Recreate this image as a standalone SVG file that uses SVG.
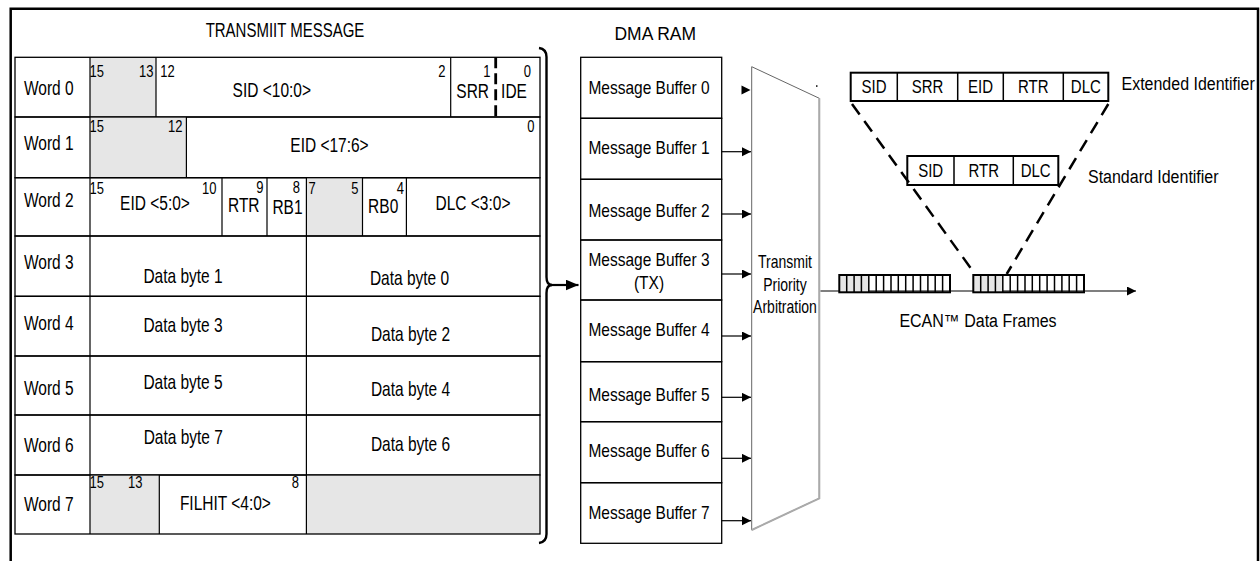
<svg xmlns="http://www.w3.org/2000/svg" width="1260" height="561" viewBox="0 0 1260 561">
<defs>
<style>
.ln{fill:none;stroke:#000;stroke-width:1.2}
.ol{fill:none;stroke:#000;stroke-width:1.3}
.gr{fill:#e6e6e6;stroke:none}
.t{font-family:"Liberation Sans",Arial,Helvetica,sans-serif;fill:#000;transform-box:fill-box;transform-origin:center}
.m{text-anchor:middle}
.e{text-anchor:end}
.f{font-size:15.5px;transform:scaleY(1.27)}
.tm{font-size:15px;transform:scaleY(1.3)}
.n{font-size:13px;transform:scaleY(1.2)}
.h{font-size:17.5px;transform:scaleY(1.1)}
.d{font-size:15.5px;transform:scaleY(1.2)}
.a{font-size:14px;transform:scaleY(1.3)}
.r{font-size:15px;transform:scaleY(1.25)}
.l{font-size:16px;transform:scaleY(1.1)}
.fr{fill:none;stroke:#000;stroke-width:2}
.dv{stroke:#000;stroke-width:1.5}
</style>
<marker id="ah" markerUnits="userSpaceOnUse" markerWidth="10" markerHeight="10" refX="9" refY="4.5" orient="auto"><path d="M0,0L9,4.5L0,9z" fill="#000"/></marker>
<marker id="ah2" markerUnits="userSpaceOnUse" markerWidth="14" markerHeight="12" refX="13" refY="5.5" orient="auto"><path d="M0,0L13,5.5L0,11z" fill="#000"/></marker>
</defs>
<rect x="0" y="0" width="1260" height="561" fill="#fff"/>
<path d="M10.7,563V8.7H1258V563" fill="none" stroke="#000" stroke-width="2.5"/>

<g id="transmit-message">
<text class="t tm m" x="285" y="35.7">TRANSMIIT MESSAGE</text>
<g id="word0">
<rect class="gr" x="90" y="57.3" width="66" height="59.7"/>
<rect class="ol" x="15" y="57.3" width="525" height="59.7"/>
<path class="ln" d="M90,57.3V117M156,57.3V117M450.7,57.3V117"/>
<line x1="495.7" y1="57.3" x2="495.7" y2="117" stroke="#000" stroke-width="2.8" stroke-dasharray="11 5"/>
<text class="t f m" x="48.8" y="93.6">Word 0</text>
<text class="t n" x="89.5" y="76">15</text>
<text class="t n e" x="153.5" y="76">13</text>
<text class="t n" x="160.2" y="76">12</text>
<text class="t f m" x="271.8" y="95.9">SID &lt;10:0&gt;</text>
<text class="t n e" x="445.5" y="76">2</text>
<text class="t n e" x="490.5" y="76">1</text>
<text class="t f m" x="472.7" y="96.6">SRR</text>
<text class="t n e" x="531" y="76">0</text>
<text class="t f m" x="514" y="96.6">IDE</text>
</g>
<g id="word1">
<rect class="gr" x="90" y="117" width="96.4" height="60.7"/>
<rect class="ol" x="15" y="117" width="525" height="60.7"/>
<path class="ln" d="M90,117V177.7M186.4,117V177.7"/>
<text class="t f m" x="48.8" y="148.6">Word 1</text>
<text class="t n" x="89.5" y="130.7">15</text>
<text class="t n e" x="182.5" y="130.7">12</text>
<text class="t f m" x="329.5" y="150.6">EID &lt;17:6&gt;</text>
<text class="t n e" x="534.5" y="130.7">0</text>
</g>
<g id="word2">
<rect class="gr" x="306.4" y="177.7" width="56.1" height="58.3"/>
<rect class="ol" x="15" y="177.7" width="525" height="58.3"/>
<path class="ln" d="M90,177.7V236M222,177.7V236M267,177.7V236M306.4,177.7V236M362.5,177.7V236M406.4,177.7V236"/>
<text class="t f m" x="48.8" y="205.3">Word 2</text>
<text class="t n" x="89.5" y="193">15</text>
<text class="t n e" x="216.5" y="193">10</text>
<text class="t f m" x="155" y="208.6">EID &lt;5:0&gt;</text>
<text class="t n e" x="263.5" y="192.5">9</text>
<text class="t f m" x="243.8" y="210.5">RTR</text>
<text class="t n e" x="300" y="192.5">8</text>
<text class="t f m" x="287.5" y="212.5">RB1</text>
<text class="t n" x="308.4" y="193">7</text>
<text class="t n e" x="358.5" y="193">5</text>
<text class="t f m" x="383.2" y="211.4">RB0</text>
<text class="t n e" x="404" y="193">4</text>
<text class="t f m" x="473" y="208.6">DLC &lt;3:0&gt;</text>
</g>
<g id="word3">
<rect class="ol" x="15" y="236" width="525" height="60.3"/>
<path class="ln" d="M90,236V296.3M306.4,236V296.3"/>
<text class="t f m" x="48.8" y="267.6">Word 3</text>
<text class="t f m" x="183" y="281.9">Data byte 1</text>
<text class="t f m" x="409.5" y="283.9">Data byte 0</text>
</g>
<g id="word4">
<rect class="ol" x="15" y="296.3" width="525" height="59.7"/>
<path class="ln" d="M90,296.3V356M306.4,296.3V356"/>
<text class="t f m" x="48.8" y="328.6">Word 4</text>
<text class="t f m" x="183" y="330.6">Data byte 3</text>
<text class="t f m" x="410.5" y="339.4">Data byte 2</text>
</g>
<g id="word5">
<rect class="ol" x="15" y="356" width="525" height="59"/>
<path class="ln" d="M90,356V415M306.4,356V415"/>
<text class="t f m" x="48.8" y="393.1">Word 5</text>
<text class="t f m" x="183" y="387.3">Data byte 5</text>
<text class="t f m" x="410.5" y="394.8">Data byte 4</text>
</g>
<g id="word6">
<rect class="ol" x="15" y="415" width="525" height="60"/>
<path class="ln" d="M90,415V475M306.4,415V475"/>
<text class="t f m" x="48.8" y="450.6">Word 6</text>
<text class="t f m" x="183.3" y="442.8">Data byte 7</text>
<text class="t f m" x="410.5" y="449.3">Data byte 6</text>
</g>
<g id="word7">
<rect class="gr" x="90" y="475" width="69.3" height="59"/>
<rect class="gr" x="306.4" y="475" width="233.6" height="59"/>
<rect class="ol" x="15" y="475" width="525" height="59"/>
<path class="ln" d="M90,475V534M159.3,475V534M306.4,475V534"/>
<text class="t f m" x="48.8" y="509.6">Word 7</text>
<text class="t n" x="89.5" y="487.5">15</text>
<text class="t n e" x="142.5" y="487.5">13</text>
<text class="t n e" x="299" y="487.5">8</text>
<text class="t f m" x="225.4" y="508.9">FILHIT &lt;4:0&gt;</text>
</g>
</g>

<g id="dma-ram">
<text class="t h m" x="655.3" y="39">DMA RAM</text>
<g id="mb0"><rect class="ol" x="580.7" y="57.3" width="141" height="61"/><text class="t d m" x="649" y="93.3">Message Buffer 0</text></g>
<g id="mb1"><rect class="ol" x="580.7" y="118.3" width="141" height="61"/><text class="t d m" x="649" y="153.1">Message Buffer 1</text></g>
<g id="mb2"><rect class="ol" x="580.7" y="179.3" width="141" height="60.7"/><text class="t d m" x="649" y="215.6">Message Buffer 2</text></g>
<g id="mb3"><rect class="ol" x="580.7" y="240" width="141" height="60"/><text class="t d m" x="649" y="264.6">Message Buffer 3</text><text class="t d m" x="649" y="288.1">(TX)</text></g>
<g id="mb4"><rect class="ol" x="580.7" y="300" width="141" height="61.7"/><text class="t d m" x="649" y="334.6">Message Buffer 4</text></g>
<g id="mb5"><rect class="ol" x="580.7" y="361.7" width="141" height="60"/><text class="t d m" x="649" y="399.6">Message Buffer 5</text></g>
<g id="mb6"><rect class="ol" x="580.7" y="421.7" width="141" height="61"/><text class="t d m" x="649" y="456.4">Message Buffer 6</text></g>
<g id="mb7"><rect class="ol" x="580.7" y="482.7" width="141" height="60.6"/><text class="t d m" x="649" y="518.1">Message Buffer 7</text></g>
</g>

<g id="arbitration">
<path d="M751.7,66.7L819.3,98.3V498.3L751.7,530Z" fill="#fff" stroke="#666" stroke-width="1"/>
<path d="M819.3,98.3V498.3L751.7,530" fill="none" stroke="#aaa" stroke-width="2"/>
<rect x="816" y="85.3" width="1.5" height="1.5" fill="#000"/>
<text class="t a m" x="785" y="266.8">Transmit</text>
<text class="t a m" x="785" y="289.3">Priority</text>
<text class="t a m" x="785" y="311.8">Arbitration</text>
</g>

<g id="extended-identifier">
<rect class="fr" x="850.7" y="72.7" width="257.6" height="28.3"/>
<path class="dv" d="M897.3,72.7V101M957.7,72.7V101M1003.3,72.7V101M1063.3,72.7V101"/>
<text class="t r m" x="874" y="92.1">SID</text>
<text class="t r m" x="927.5" y="92.1">SRR</text>
<text class="t r m" x="980.5" y="92.1">EID</text>
<text class="t r m" x="1033.3" y="92.1">RTR</text>
<text class="t r m" x="1085.8" y="92.1">DLC</text>
<text class="t l" x="1121.5" y="89.5">Extended Identifier</text>
</g>

<g id="standard-identifier">
<rect class="fr" x="907.3" y="156" width="151" height="29" fill="#fff"/>
<path class="dv" d="M954,156V185M1013.3,156V185"/>
<text class="t r m" x="930.7" y="175.7">SID</text>
<text class="t r m" x="983.7" y="175.7">RTR</text>
<text class="t r m" x="1035.7" y="175.7">DLC</text>
<text class="t l" x="1088" y="182.8">Standard Identifier</text>
</g>

<g id="connectors">
<path d="M539,48Q546.5,49 546.5,57V277Q546.5,285 552,285Q546.5,285 546.5,293V534Q546.5,542 539,543" fill="none" stroke="#000" stroke-width="2.4"/>
<line x1="551" y1="285" x2="578.5" y2="285" stroke="#000" stroke-width="2.2" marker-end="url(#ah2)"/>
<path d="M741.5,85.5L750.5,90L741.5,94.5z" fill="#000"/>
<g stroke="#000" stroke-width="1.2" marker-end="url(#ah)">
<line x1="721.7" y1="151.7" x2="751" y2="151.7"/>
<line x1="721.7" y1="214" x2="751" y2="214"/>
<line x1="721.7" y1="274" x2="751" y2="274"/>
<line x1="721.7" y1="336" x2="751" y2="336"/>
<line x1="721.7" y1="397.3" x2="751" y2="397.3"/>
<line x1="721.7" y1="458.3" x2="751" y2="458.3"/>
<line x1="721.7" y1="520.7" x2="751" y2="520.7"/>
<line x1="820.5" y1="291" x2="1136" y2="291"/>
</g>
<g stroke="#000" stroke-width="2.5" stroke-dasharray="13 8" fill="none">
<line x1="852" y1="104" x2="975" y2="274"/>
<line x1="1108.3" y1="104" x2="1006.7" y2="274"/>
</g>
</g>

<g id="data-frames">
<g id="frame1">
<rect class="gr" x="839.3" y="275" width="29.5" height="17.3"/>
<path class="dv" d="M846.7,275V292.3M854.1,275V292.3M861.4,275V292.3M868.8,275V292.3M876.2,275V292.3M883.6,275V292.3M891,275V292.3M898.3,275V292.3M905.7,275V292.3M913.1,275V292.3M920.5,275V292.3M927.9,275V292.3M935.2,275V292.3M942.6,275V292.3"/>
<rect class="fr" x="839.3" y="275" width="110.7" height="17.3"/>
</g>
<g id="frame2">
<rect class="gr" x="973.3" y="275" width="29.5" height="17.3"/>
<path class="dv" d="M980.7,275V292.3M988.1,275V292.3M995.4,275V292.3M1002.8,275V292.3M1010.2,275V292.3M1017.6,275V292.3M1025,275V292.3M1032.3,275V292.3M1039.7,275V292.3M1047.1,275V292.3M1054.5,275V292.3M1061.9,275V292.3M1069.2,275V292.3M1076.6,275V292.3"/>
<rect class="fr" x="973.3" y="275" width="110.7" height="17.3"/>
</g>
<text class="t l m" x="978" y="326">ECAN™ Data Frames</text>
</g>
</svg>
